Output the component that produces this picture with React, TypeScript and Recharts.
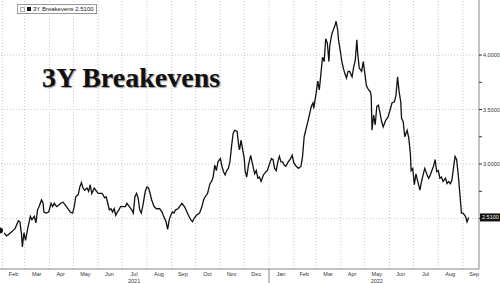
import { LineChart, Line, XAxis, YAxis, ReferenceLine } from "recharts";

// 3Y breakevens, every few days
const dates = [
  // 2021
  "2021-01-29", "2021-02-02", "2021-02-06", "2021-02-08", "2021-02-13", "2021-02-17", "2021-02-21", "2021-02-23", "2021-02-25", "2021-02-26", "2021-02-28",
  "2021-03-02", "2021-03-05", "2021-03-08", "2021-03-10", "2021-03-13", "2021-03-15", "2021-03-17", "2021-03-19", "2021-03-22", "2021-03-24", "2021-03-25", "2021-03-28", "2021-03-31",
  "2021-04-03", "2021-04-05", "2021-04-07", "2021-04-10", "2021-04-12", "2021-04-15", "2021-04-18", "2021-04-21", "2021-04-24", "2021-04-27", "2021-04-30",
  "2021-05-02", "2021-05-04", "2021-05-07", "2021-05-09", "2021-05-11", "2021-05-13", "2021-05-15", "2021-05-18", "2021-05-20", "2021-05-22", "2021-05-24", "2021-05-27", "2021-05-30",
  "2021-06-01", "2021-06-06", "2021-06-09", "2021-06-11", "2021-06-13", "2021-06-15", "2021-06-17", "2021-06-19", "2021-06-21", "2021-06-23", "2021-06-25", "2021-06-27", "2021-06-29",
  "2021-07-02", "2021-07-05", "2021-07-07", "2021-07-10", "2021-07-13", "2021-07-15", "2021-07-17", "2021-07-19", "2021-07-21", "2021-07-23", "2021-07-25", "2021-07-27", "2021-07-30",
  "2021-08-01", "2021-08-03", "2021-08-05", "2021-08-07", "2021-08-10", "2021-08-13", "2021-08-17", "2021-08-20", "2021-08-22", "2021-08-25", "2021-08-27", "2021-08-29", "2021-08-31",
  "2021-09-02", "2021-09-04", "2021-09-06", "2021-09-09", "2021-09-12", "2021-09-14", "2021-09-17", "2021-09-19", "2021-09-22", "2021-09-25", "2021-09-27", "2021-09-29",
  "2021-10-02", "2021-10-06", "2021-10-09", "2021-10-11", "2021-10-13", "2021-10-16", "2021-10-19", "2021-10-21", "2021-10-23", "2021-10-25", "2021-10-27", "2021-10-29",
  "2021-11-01", "2021-11-03", "2021-11-05", "2021-11-07", "2021-11-09", "2021-11-11", "2021-11-13", "2021-11-15", "2021-11-17", "2021-11-19", "2021-11-22", "2021-11-24", "2021-11-25", "2021-11-27", "2021-11-29",
  "2021-12-01", "2021-12-02", "2021-12-04", "2021-12-06", "2021-12-09", "2021-12-11", "2021-12-14", "2021-12-16", "2021-12-18", "2021-12-20", "2021-12-22", "2021-12-25", "2021-12-28", "2021-12-30",
  // 2022
  "2022-01-01", "2022-01-04", "2022-01-06", "2022-01-08", "2022-01-10", "2022-01-12", "2022-01-14", "2022-01-16", "2022-01-18", "2022-01-20", "2022-01-22", "2022-01-25", "2022-01-28", "2022-01-30",
  "2022-02-01", "2022-02-04", "2022-02-07", "2022-02-10", "2022-02-12", "2022-02-14", "2022-02-15", "2022-02-19", "2022-02-23", "2022-02-25", "2022-02-26",
  "2022-03-01", "2022-03-03", "2022-03-05", "2022-03-07", "2022-03-09", "2022-03-11", "2022-03-13", "2022-03-15", "2022-03-17", "2022-03-18", "2022-03-20", "2022-03-21", "2022-03-23", "2022-03-25", "2022-03-26", "2022-03-28", "2022-03-29", "2022-03-31",
  "2022-04-02", "2022-04-04", "2022-04-06", "2022-04-08", "2022-04-10", "2022-04-12", "2022-04-15", "2022-04-17", "2022-04-19", "2022-04-21", "2022-04-22", "2022-04-24", "2022-04-27", "2022-04-29",
  "2022-05-01", "2022-05-03", "2022-05-05", "2022-05-08", "2022-05-09", "2022-05-10", "2022-05-12", "2022-05-14", "2022-05-16", "2022-05-18", "2022-05-20", "2022-05-22", "2022-05-24", "2022-05-27", "2022-05-30",
  "2022-06-01", "2022-06-04", "2022-06-07", "2022-06-09", "2022-06-11", "2022-06-13", "2022-06-15", "2022-06-16", "2022-06-18", "2022-06-20", "2022-06-23", "2022-06-25", "2022-06-27", "2022-06-28", "2022-06-30",
  "2022-07-02", "2022-07-04", "2022-07-06", "2022-07-09", "2022-07-11", "2022-07-13", "2022-07-15", "2022-07-18", "2022-07-20", "2022-07-22", "2022-07-24", "2022-07-26", "2022-07-28", "2022-07-30",
  "2022-08-01", "2022-08-03", "2022-08-05", "2022-08-07", "2022-08-10", "2022-08-12", "2022-08-14", "2022-08-16", "2022-08-18", "2022-08-20", "2022-08-22", "2022-08-24", "2022-08-26", "2022-08-28", "2022-08-30",
  "2022-09-01", "2022-09-04", "2022-09-06", "2022-09-08",
];

const values = [
  // 2021
  2.39, 2.38, 2.34, 2.35, 2.38, 2.41, 2.48, 2.47, 2.35, 2.24, 2.37,
  2.3, 2.42, 2.52, 2.49, 2.52, 2.46, 2.58, 2.61, 2.67, 2.64, 2.56, 2.55, 2.56,
  2.64, 2.61, 2.64, 2.61, 2.62, 2.64, 2.65, 2.62, 2.59, 2.56, 2.55,
  2.61, 2.7, 2.72, 2.79, 2.83, 2.78, 2.76, 2.78, 2.75, 2.81, 2.73, 2.78, 2.75,
  2.73, 2.73, 2.69, 2.7, 2.64, 2.58, 2.59, 2.56, 2.59, 2.53, 2.56, 2.58, 2.61,
  2.61, 2.61, 2.64, 2.61, 2.58, 2.55, 2.7, 2.73, 2.69, 2.58, 2.55, 2.62, 2.75,
  2.79, 2.78, 2.73, 2.67, 2.61, 2.59, 2.59, 2.56, 2.52, 2.47, 2.4, 2.49, 2.53,
  2.56, 2.55, 2.58, 2.59, 2.62, 2.64, 2.61, 2.58, 2.53, 2.49, 2.47, 2.5,
  2.53, 2.55, 2.61, 2.67, 2.7, 2.73, 2.82, 2.84, 2.88, 2.99, 2.94, 3.02,
  3.05, 2.98, 2.93, 2.9, 2.94, 2.96, 3.02, 3.16, 3.28, 3.31, 3.3, 3.17, 3.13, 3.22, 3.13,
  3.05, 2.94, 2.88, 2.98, 3.08, 3.01, 2.91, 2.94, 2.87, 2.88, 2.84, 2.9, 2.93, 2.94,
  // 2022
  2.99, 3.05, 3.04, 2.96, 2.94, 3.02, 3.07, 3.02, 3.02, 2.99, 2.98, 3.02, 3.05, 3.08,
  3.01, 2.98, 2.96, 2.98, 3.07, 3.25, 3.28, 3.4, 3.53, 3.56, 3.51,
  3.65, 3.76, 3.68, 3.83, 3.98, 3.94, 4.15, 4.11, 3.94, 4.08, 4.17, 4.2, 4.24, 4.28, 4.31, 4.23, 4.14, 4.05,
  3.95, 3.88, 3.83, 3.79, 3.85, 3.85, 3.8, 3.89, 3.95, 4.14, 4.02, 3.88, 3.85, 3.94,
  3.83, 3.72, 3.69, 3.66, 3.62, 3.31, 3.45, 3.36, 3.53, 3.54, 3.47, 3.39, 3.34, 3.4, 3.43,
  3.48, 3.56, 3.57, 3.63, 3.8, 3.66, 3.57, 3.42, 3.39, 3.25, 3.31, 3.24, 3.1, 2.94, 2.96,
  2.81, 2.91, 2.85, 2.76, 2.84, 2.9, 2.96, 2.9, 2.87, 2.9, 2.94, 2.98, 3.04, 2.93,
  2.94, 2.87, 2.88, 2.84, 2.87, 2.82, 2.84, 2.82, 2.85, 2.96, 3.07, 3.04, 2.9, 2.73, 2.55,
  2.55, 2.52, 2.47, 2.51,
];

const monthStarts = [
  "2021-02-01", "2021-03-01", "2021-04-01", "2021-05-01", "2021-06-01", "2021-07-01", "2021-08-01", "2021-09-01", "2021-10-01", "2021-11-01", "2021-12-01",
  "2022-01-01", "2022-02-01", "2022-03-01", "2022-04-01", "2022-05-01", "2022-06-01", "2022-07-01", "2022-08-01", "2022-09-01",
];
const monthMids = [
  "2021-02-15", "2021-03-16", "2021-04-15", "2021-05-16", "2021-06-15", "2021-07-16", "2021-08-16", "2021-09-15", "2021-10-16", "2021-11-15", "2021-12-16",
  "2022-01-16", "2022-02-14", "2022-03-16", "2022-04-15", "2022-05-16", "2022-06-15", "2022-07-16", "2022-08-16", "2022-09-15",
];
const yearStarts = ["2022-01-01"];
const yearLabels = [
  { month: "2021-07-16", label: "2021" },
  { month: "2022-05-16", label: "2022" },
];
const majorTicks = [2.5, 3, 3.5, 4];
const minorTicks = [2.75, 3.25, 3.75];
const monthNames = ["Jan", "Feb", "Mar", "Apr", "May", "Jun", "Jul", "Aug", "Sep", "Oct", "Nov", "Dec"];

const domainStart = "2021-01-29";
const domainEnd = "2022-09-21";

const toDay = (s: string) => Date.parse(s) / 86400000;
const lastValue = values[values.length - 1];
const fontFamily = "'Liberation Sans', Arial, sans-serif";

const XTick = (props: any) => {
  const { x, y, payload } = props;
  const t = payload.value as number;
  if (yearStarts.some((s) => toDay(s) === t)) {
    return <line x1={x} x2={x} y1={y} y2={y + 14} stroke="#888" strokeWidth={1} />;
  }
  const d = new Date(t * 86400000);
  const year = yearLabels.find((yl) => toDay(yl.month) === t);
  return (
    <g>
      <text x={x} y={y + 7} textAnchor="middle" fontSize={5.5} fill="#333" fontFamily={fontFamily}>
        {monthNames[d.getUTCMonth()]}
      </text>
      {year && (
        <text x={x} y={y + 13.5} textAnchor="middle" fontSize={5.5} fill="#333" fontFamily={fontFamily}>
          {year.label}
        </text>
      )}
    </g>
  );
};

const YTick = (props: any) => {
  const { x, y, payload } = props;
  const v = payload.value as number;
  if (v === lastValue && !majorTicks.includes(v)) {
    return (
      <g>
        <rect x={x + 1} y={y - 4} width={20} height={8} fill="#111" />
        <text x={x + 3} y={y} dominantBaseline="central" fontSize={5.5} fill="#fff" fontFamily={fontFamily}>
          {v.toFixed(4)}
        </text>
      </g>
    );
  }
  const major = majorTicks.includes(v);
  return (
    <g>
      <line x1={x} x2={x + 3} y1={y} y2={y} stroke="#333" strokeWidth={1} />
      {major && (
        <text x={x + 4} y={y} dominantBaseline="central" fontSize={5.5} fill="#333" fontFamily={fontFamily}>
          {v.toFixed(4)}
        </text>
      )}
    </g>
  );
};

export default function App() {
  const data = dates.map((d, i) => ({ t: toDay(d), v: values[i] }));
  const xTicks = [...monthMids, ...yearStarts].map(toDay);
  const yTicks = [...minorTicks, ...majorTicks, lastValue];

  return (
    <div style={{ position: "fixed", left: 0, top: 0, width: 500, height: 283, background: "#fff" }}>
      <LineChart width={500} height={283} data={data} margin={{ top: 0, right: 0, bottom: 0, left: 0 }}>
        {monthStarts.map((m) => (
          <ReferenceLine key={m} x={toDay(m)} stroke="#c8c8c8" strokeDasharray="1 2" />
        ))}
        {majorTicks.map((v) => (
          <ReferenceLine key={v} y={v} stroke="#c8c8c8" strokeDasharray="1 2" />
        ))}
        <XAxis
          dataKey="t"
          type="number"
          domain={[toDay(domainStart), toDay(domainEnd)]}
          allowDataOverflow
          ticks={xTicks}
          interval={0}
          height={14}
          tickLine={false}
          tickSize={0}
          tickMargin={0}
          axisLine={{ stroke: "#888" }}
          tick={<XTick />}
        />
        <YAxis
          orientation="right"
          type="number"
          domain={[2.037, 4.505]}
          allowDataOverflow
          ticks={yTicks}
          interval={0}
          width={21}
          tickLine={false}
          tickSize={0}
          tickMargin={0}
          axisLine={{ stroke: "#888" }}
          tick={<YTick />}
        />
        <Line type="linear" dataKey="v" stroke="#111" strokeWidth={1.3} dot={false} isAnimationActive={false} />
      </LineChart>

      <div
        style={{
          position: "absolute",
          left: 17,
          top: 4,
          height: 8,
          padding: "0 2px",
          border: "1px solid #999",
          background: "#fff",
          display: "flex",
          alignItems: "center",
          gap: 2,
          fontFamily,
          fontSize: 6,
          lineHeight: "8px",
          color: "#222",
        }}
      >
        <span style={{ width: 3, height: 3, border: "1px solid #aaa", display: "inline-block" }} />
        <span style={{ width: 4, height: 4, background: "#111", display: "inline-block" }} />
        <span>3Y Breakevens {lastValue.toFixed(4)}</span>
      </div>

      <div
        style={{
          position: "absolute",
          left: 42,
          top: 62,
          fontFamily: "'Liberation Serif', 'Times New Roman', serif",
          fontWeight: "bold",
          fontSize: 28,
          color: "#111",
          textShadow: "1px 1px 1px #999",
          whiteSpace: "nowrap",
        }}
      >
        3Y Breakevens
      </div>
    </div>
  );
}
